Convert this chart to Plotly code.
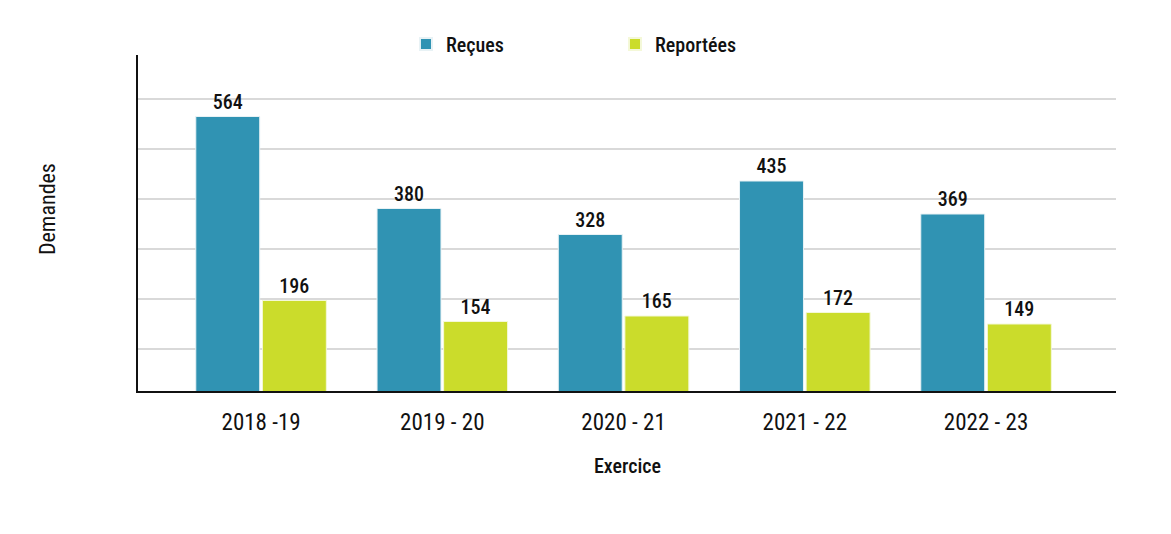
import plotly.graph_objects as go

# --------------------------------------------------
# Data
# --------------------------------------------------

exercices = ["2018 -19", "2019 - 20", "2020 - 21", "2021 - 22", "2022 - 23"]
recues = [564, 380, 328, 435, 369]
reportees = [196, 154, 165, 172, 149]

FONT = "Roboto Condensed, Liberation Sans Narrow, Roboto, sans-serif"

fig = go.Figure()

fig.add_trace(go.Bar(
    x=exercices,
    y=recues,
    name="Reçues",
    marker=dict(color="#3093b3", line=dict(color="#e8f2f5", width=1)),
    text=recues,
    textposition="outside",
    textfont=dict(size=20, color="#111111", family=FONT, weight=500),
    cliponaxis=False,
))

fig.add_trace(go.Bar(
    x=exercices,
    y=reportees,
    name="Reportées",
    marker=dict(color="#cbdc2b", line=dict(color="#f4f8d8", width=1)),
    text=reportees,
    textposition="outside",
    textfont=dict(size=20, color="#111111", family=FONT, weight=500),
    cliponaxis=False,
))

fig.update_layout(
    width=1171,
    height=534,
    template="plotly_white",
    paper_bgcolor="white",
    plot_bgcolor="white",
    font=dict(family=FONT, size=20, color="#111111"),
    margin=dict(l=130, r=63, t=47, b=151, autoexpand=False),
    barmode="group",
    bargap=0.265,
    bargroupgap=0.04,
    showlegend=True,
    legend=dict(
        orientation="h",
        x=0.274,
        xanchor="left",
        y=1.033,
        yanchor="middle",
        entrywidth=164,
        entrywidthmode="pixels",
        font=dict(size=20, family=FONT, weight=500),
        itemsizing="constant",
    ),
    annotations=[
        dict(
            text="Exercice",
            x=0.5, xref="paper",
            y=-(466 - 391) / 336, yref="paper",
            xanchor="center", yanchor="middle",
            showarrow=False,
            font=dict(size=20, family=FONT, weight=500),
        ),
        dict(
            text="Demandes",
            x=-(137 - 46) / 978, xref="paper",
            y=(391 - 209) / 336, yref="paper",
            xanchor="center", yanchor="middle",
            showarrow=False,
            textangle=-90,
            font=dict(size=22, family=FONT),
        ),
    ],
)

fig.update_xaxes(
    range=[-0.679, 4.717],
    showline=True,
    linecolor="#111111",
    linewidth=1.5,
    showgrid=False,
    ticks="",
    ticklabelstandoff=10,
    tickfont=dict(size=23, family=FONT),
)

fig.update_yaxes(
    range=[15, 687],
    showline=True,
    linecolor="#111111",
    linewidth=1.5,
    showgrid=True,
    gridcolor="#d9d9d9",
    gridwidth=1.5,
    dtick=100,
    tick0=0,
    showticklabels=False,
    zeroline=False,
    ticks="",
)

fig.write_html("out.html")
